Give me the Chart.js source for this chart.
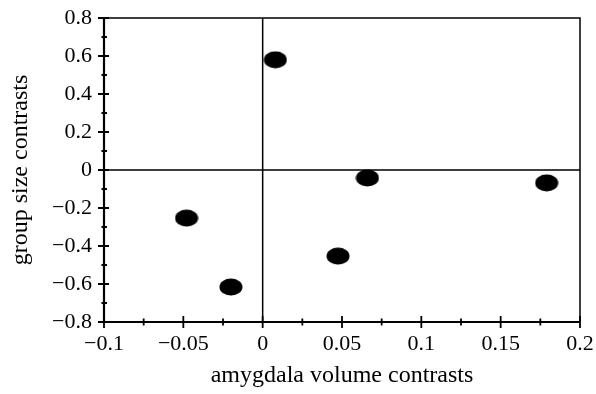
<!DOCTYPE html>
<html>
<head>
<meta charset="utf-8">
<script src="https://cdn.jsdelivr.net/npm/chart.js@4/dist/chart.umd.min.js"></script>
<style>
  html, body { margin: 0; padding: 0; background: #fff; }
  #wrap { width: 596px; height: 394px; }
</style>
</head>
<body>
<div id="wrap"><canvas id="chart"></canvas></div>
<script>
// amygdala volume contrasts vs group size contrasts
const amygdalaX = [0.008, 0.066, 0.179, -0.048, -0.020, 0.0475];
const groupSizeY = [0.58, -0.042, -0.068, -0.253, -0.616, -0.453];

const xTicks = [-0.1, -0.05, 0, 0.05, 0.1, 0.15, 0.2];
const yTicks = [0.8, 0.6, 0.4, 0.2, 0, -0.2, -0.4, -0.6, -0.8];
const xMinor = [-0.075, -0.025, 0.025, 0.075, 0.125, 0.175];
const yMinor = [0.7, 0.5, 0.3, 0.1, -0.1, -0.3, -0.5, -0.7];

function fmt(v) {
    const s = String(v);
    return s.startsWith('-') ? '\u2212' + s.slice(1) : s;
}

// filled ellipse used as the marker
const dot = document.createElement('canvas');
dot.width = 24;
dot.height = 18;
const dctx = dot.getContext('2d');
dctx.fillStyle = '#000';
dctx.beginPath();
dctx.ellipse(12, 9, 11.5, 8.5, 0, 0, Math.PI * 2);
dctx.fill();

const frame = {
    id: 'frame',
    afterDraw(chart) {
        const { ctx, chartArea: a, scales: { x, y } } = chart;
        ctx.save();
        ctx.strokeStyle = '#000';

        // zero lines
        ctx.lineWidth = 1.5;
        const x0 = x.getPixelForValue(0), y0 = y.getPixelForValue(0);
        ctx.beginPath();
        ctx.moveTo(x0, a.top); ctx.lineTo(x0, a.bottom);
        ctx.moveTo(a.left, y0); ctx.lineTo(a.right, y0);
        ctx.stroke();

        // box
        ctx.lineWidth = 1.5;
        ctx.beginPath();
        ctx.moveTo(a.left, a.top); ctx.lineTo(a.right, a.top); ctx.lineTo(a.right, a.bottom);
        ctx.stroke();
        ctx.lineWidth = 2.2;
        ctx.beginPath();
        ctx.moveTo(a.left, a.top); ctx.lineTo(a.left, a.bottom); ctx.lineTo(a.right, a.bottom);
        ctx.stroke();

        // tick marks crossing the axes
        ctx.lineWidth = 1.8;
        ctx.beginPath();
        xTicks.forEach(v => {
            const p = x.getPixelForValue(v);
            ctx.moveTo(p, a.bottom - 6); ctx.lineTo(p, a.bottom + 6);
        });
        xMinor.forEach(v => {
            const p = x.getPixelForValue(v);
            ctx.moveTo(p, a.bottom - 3.5); ctx.lineTo(p, a.bottom + 3.5);
        });
        yTicks.forEach(v => {
            const p = y.getPixelForValue(v);
            ctx.moveTo(a.left - 6, p); ctx.lineTo(a.left + 5, p);
        });
        yMinor.forEach(v => {
            const p = y.getPixelForValue(v);
            ctx.moveTo(a.left - 2.5, p); ctx.lineTo(a.left + 3, p);
        });
        ctx.stroke();
        ctx.restore();
    }
};

const family = '"Liberation Serif", "Times New Roman", serif';

new Chart(document.getElementById('chart'), {
    type: 'scatter',
    data: {
        datasets: [{
            data: amygdalaX.map((v, i) => ({ x: v, y: groupSizeY[i] })),
            pointStyle: dot,
            pointRadius: 10,
            pointHoverRadius: 10
        }]
    },
    options: {
        responsive: true,
        maintainAspectRatio: false,
        animation: false,
        layout: { padding: 0 },
        plugins: { legend: { display: false }, tooltip: { enabled: false } },
        scales: {
            x: {
                type: 'linear',
                min: -0.1,
                max: 0.2,
                afterBuildTicks: s => { s.ticks = xTicks.map(v => ({ value: v })); },
                afterFit: s => { s.height = 72; s.paddingLeft = 0; s.paddingRight = 16; },
                grid: { display: false, drawTicks: false },
                border: { display: false },
                ticks: {
                    color: '#000',
                    font: { family: family, size: 22 },
                    padding: 9,
                    maxRotation: 0,
                    autoSkip: false,
                    callback: v => fmt(v)
                },
                title: {
                    display: true,
                    text: 'amygdala volume contrasts',
                    color: '#000',
                    font: { family: family, size: 24 },
                    padding: { top: 4 }
                }
            },
            y: {
                type: 'linear',
                min: -0.8,
                max: 0.8,
                afterBuildTicks: s => { s.ticks = yTicks.map(v => ({ value: v })); },
                afterFit: s => { s.width = 104; s.paddingTop = 18; s.paddingBottom = 0; },
                grid: { display: false, drawTicks: false },
                border: { display: false },
                ticks: {
                    color: '#000',
                    font: { family: family, size: 22 },
                    padding: 12,
                    autoSkip: false,
                    callback: v => fmt(v)
                },
                title: {
                    display: true,
                    text: 'group size contrasts',
                    color: '#000',
                    font: { family: family, size: 24 },
                    padding: { top: 6, bottom: 0 }
                }
            }
        }
    },
    plugins: [frame]
});
</script>
</body>
</html>
